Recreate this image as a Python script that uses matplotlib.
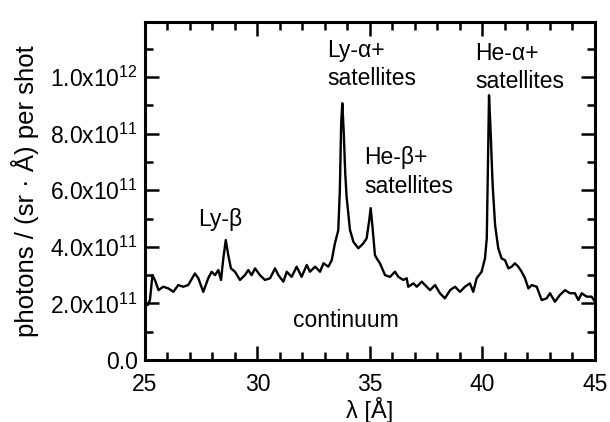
import matplotlib
matplotlib.use("Agg")
import matplotlib.pyplot as plt
from matplotlib.ticker import MultipleLocator, FuncFormatter

plt.rcParams["font.family"] = "Liberation Sans"
plt.rcParams["font.size"] = 16
plt.rcParams["mathtext.fontset"] = "custom"
plt.rcParams["mathtext.rm"] = "Liberation Sans"
plt.rcParams["mathtext.default"] = "regular"
plt.rcParams["xtick.direction"] = "in"
plt.rcParams["ytick.direction"] = "in"

# wavelength [A] and intensity [1e11 photons/(sr A) per shot]
wavelength = [
    25.12, 25.22, 25.33, 25.44, 25.60, 25.81, 26.04, 26.26, 26.48, 26.70,
    26.92, 27.22, 27.37, 27.59, 27.81, 27.96, 28.11, 28.26, 28.38, 28.48,
    28.59, 28.70, 28.82, 29.00, 29.22, 29.44, 29.59, 29.74, 29.89, 30.11,
    30.33, 30.56, 30.78, 30.93, 31.15, 31.30, 31.52, 31.74, 31.96, 32.19,
    32.33, 32.56, 32.78, 32.93, 33.15, 33.30, 33.44, 33.59, 33.66, 33.72,
    33.77, 33.83, 33.90, 33.96, 34.11, 34.26, 34.48, 34.70, 34.85, 34.96,
    35.03, 35.10, 35.22, 35.30, 35.44, 35.67, 35.89, 36.11, 36.26, 36.48,
    36.63, 36.70, 36.93, 37.08, 37.30, 37.52, 37.67, 37.89, 38.11, 38.33,
    38.56, 38.78, 39.00, 39.22, 39.44, 39.59, 39.74, 39.96, 40.11, 40.19,
    40.24, 40.29, 40.35, 40.45, 40.56, 40.70, 40.85, 41.00, 41.15, 41.30,
    41.44, 41.59, 41.74, 41.89, 42.04, 42.19, 42.41, 42.63, 42.85, 43.00,
    43.22, 43.44, 43.67, 43.89, 44.11, 44.26, 44.41, 44.63, 44.85, 45.00,
]
intensity = [
    1.95, 2.12, 3.00, 2.83, 2.47, 2.59, 2.53, 2.41, 2.65, 2.59,
    2.65, 3.06, 2.89, 2.41, 2.89, 3.12, 3.00, 3.18, 2.83, 3.59,
    4.24, 3.71, 3.24, 3.12, 2.83, 3.00, 3.18, 3.00, 3.24, 3.00,
    2.83, 2.89, 3.24, 3.00, 2.77, 3.12, 2.94, 3.30, 2.94, 3.36,
    3.12, 3.30, 3.12, 3.42, 3.30, 3.53, 4.12, 4.59, 6.00, 8.40,
    9.08, 8.10, 6.60, 5.77, 4.60, 4.18, 3.95, 4.12, 4.30, 4.90,
    5.37, 4.80, 3.71, 3.59, 3.42, 3.00, 2.94, 3.12, 2.94, 2.83,
    2.89, 2.59, 2.71, 2.59, 2.77, 2.59, 2.47, 2.65, 2.36, 2.18,
    2.47, 2.59, 2.41, 2.59, 2.71, 2.41, 2.89, 3.12, 3.59, 4.30,
    6.80, 9.36, 8.30, 6.20, 4.77, 3.95, 3.59, 3.53, 3.24, 3.30,
    3.42, 3.30, 3.12, 2.89, 2.53, 2.65, 2.59, 2.12, 2.18, 2.36,
    2.06, 2.30, 2.47, 2.36, 2.36, 2.12, 2.36, 2.24, 2.24, 2.06,
]

labels = ["Ly-β", "Ly-α+\nsatellites", "He-β+\nsatellites", "He-α+\nsatellites", "continuum"]
label_x = [27.36, 33.09, 34.73, 39.67, 31.58]
label_y = [4.95, 10.45, 6.64, 10.35, 1.41]

fig = plt.figure(figsize=(6.1, 4.22), dpi=100)
ax = fig.add_axes([0.2377, 0.1469, 0.7377, 0.801])

ax.plot(wavelength, [v * 1e11 for v in intensity], color="black", lw=1.7)

for txt, x, y in zip(labels, label_x, label_y):
    ax.text(x, y * 1e11, txt, ha="left", va="center", fontsize=16.5, linespacing=1.3)

ax.set_xlim(25, 45)
ax.set_ylim(0, 1.195e12)
ax.xaxis.set_major_locator(MultipleLocator(5))
ax.xaxis.set_minor_locator(MultipleLocator(1))
ax.yaxis.set_major_locator(MultipleLocator(2e11))
ax.yaxis.set_minor_locator(MultipleLocator(1e11))


def sci(v, pos):
    if v == 0:
        return "0.0"
    exp = len(str(int(round(v)))) - 1
    return f"{v / 10 ** exp:.1f}x10$^{{{exp}}}$"


ax.yaxis.set_major_formatter(FuncFormatter(sci))
ax.tick_params(which="both", top=True, right=True, width=1.8)
ax.tick_params(which="major", length=10, labelsize=16.5)
ax.tick_params(axis="x", which="major", pad=9)
ax.tick_params(axis="y", which="major", pad=5)
ax.tick_params(which="minor", length=6)
for s in ax.spines.values():
    s.set_linewidth(2.2)

ax.set_xlabel("λ [Å]", fontsize=17, labelpad=1)
ax.set_ylabel("photons / (sr · Å) per shot", fontsize=18.5, labelpad=8)

fig.savefig("out.png", dpi=100)
